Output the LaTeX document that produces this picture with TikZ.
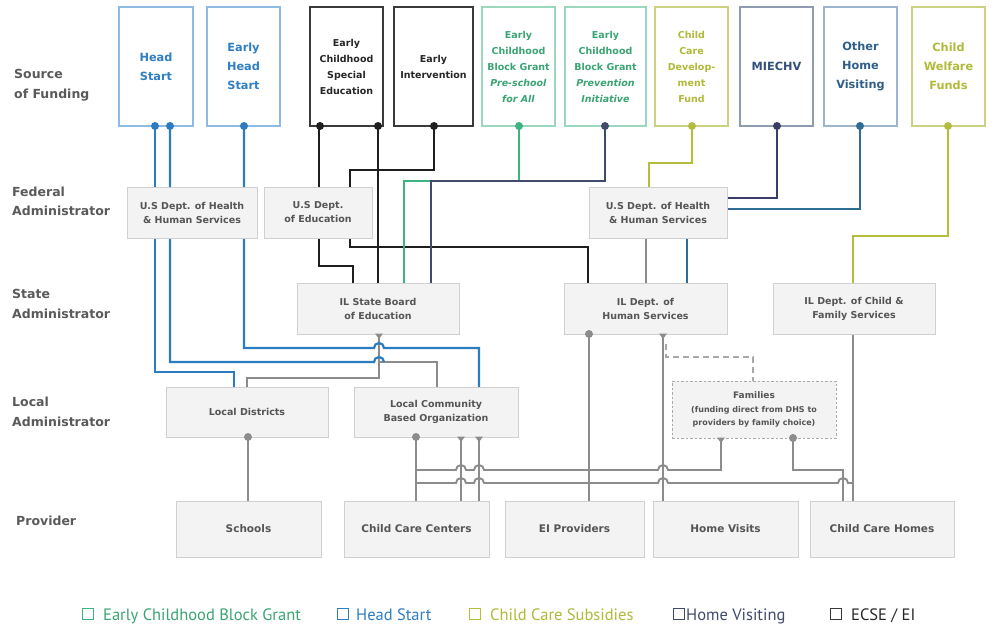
\documentclass[tikz,border=0pt]{standalone}
\usepackage{fontspec}
\setmainfont{DejaVu Sans}
\newfontfamily\legfont{PT Sans}
\usetikzlibrary{backgrounds}
\definecolor{hsline}{HTML}{2B7CC1}
\definecolor{hsbd}{HTML}{8DBBE3}
\definecolor{hstx}{HTML}{2E7EC3}
\definecolor{bkline}{HTML}{1E1E1E}
\definecolor{bkbd}{HTML}{3A3A3A}
\definecolor{bktx}{HTML}{262626}
\definecolor{grline}{HTML}{3DB480}
\definecolor{grbd}{HTML}{9AD7BC}
\definecolor{grtx}{HTML}{3AA572}
\definecolor{nvline}{HTML}{404B6C}
\definecolor{ylline}{HTML}{B4BE3C}
\definecolor{ylbd}{HTML}{CDD283}
\definecolor{yltx}{HTML}{B0BA38}
\definecolor{miline}{HTML}{3A3E66}
\definecolor{mibd}{HTML}{8F9BB0}
\definecolor{mitx}{HTML}{33507A}
\definecolor{hvline}{HTML}{2F6C98}
\definecolor{hvbd}{HTML}{9CB4CC}
\definecolor{hvtx}{HTML}{2F5F88}
\definecolor{gline}{HTML}{8C8C8C}
\definecolor{gdash}{HTML}{A8A8A8}
\definecolor{boxbd}{HTML}{D0D0D0}
\definecolor{boxfill}{HTML}{F3F3F3}
\definecolor{boxtx}{HTML}{555555}
\definecolor{labtx}{HTML}{5A5A5A}
\newcommand{\fbig}{\bfseries\fontsize{11.3}{19}\selectfont}
\newcommand{\fsmall}{\bfseries\fontsize{9.5}{16}\selectfont}
\tikzset{
  fund/.style={draw, fill=white, line width=1.3pt, minimum height=119, inner sep=0pt, outer sep=0pt, align=center},
  adm/.style={draw=boxbd, fill=boxfill, line width=1pt, inner sep=0pt, outer sep=0pt, align=center, text=boxtx, font=\bfseries\fontsize{9.5}{14}\selectfont},
  prov/.style={adm, minimum height=56, font=\bfseries\fontsize{10.5}{14}\selectfont},
  rowlab/.style={anchor=west, align=left, inner sep=0pt, text=labtx, font=\bfseries\fontsize{12.5}{19.5}\selectfont},
  ln/.style={line width=2.2pt},
  gl/.style={line width=1.9pt, draw=gline},
  legsq/.style={draw, line width=1pt, minimum size=11, inner sep=0pt, outer sep=0pt},
  legtx/.style={anchor=base west, inner sep=0pt, font=\legfont\fontsize{16.5}{18}\selectfont},
  tee/.pic={\fill (-4,-0.5) -- (4,-0.5) -- (0,5) -- cycle;}
}
\begin{document}
\begin{tikzpicture}[x=1pt,y=-1pt]
\useasboundingbox (0,0) rectangle (994,625);

% row labels
\node[rowlab] (r1) at (14,85) {Source\\of Funding};
\node[rowlab] (r2) at (12,201.5) {Federal\\Administrator};
\node[rowlab] (r3) at (12,304) {State\\Administrator};
\node[rowlab] (r4) at (12,412) {Local\\Administrator};
\node[rowlab] (r5) at (16,521) {Provider};

% funding sources
\node[fund,draw=hsbd,text=hstx,font=\fbig,minimum width=74] (hs) at (156,66.5) {Head\\Start};
\node[fund,draw=hsbd,text=hstx,font=\fbig,minimum width=73] (ehs) at (243.5,66.5) {Early\\Head\\Start};
\node[fund,draw=bkbd,text=bktx,font=\fsmall,minimum width=73] (ecse) at (346.5,66.5) {Early\\Childhood\\Special\\Education};
\node[fund,draw=bkbd,text=bktx,font=\fsmall,minimum width=79] (ei) at (433.5,66.5) {Early\\Intervention};
\node[fund,draw=grbd,text=grtx,font=\fsmall,minimum width=73] (pfa) at (518.5,66.5) {Early\\Childhood\\Block Grant\\\textit{Pre-school}\\\textit{for All}};
\node[fund,draw=grbd,text=grtx,font=\fsmall,minimum width=81] (pi) at (605.5,66.5) {Early\\Childhood\\Block Grant\\\textit{Prevention}\\\textit{Initiative}};
\node[fund,draw=ylbd,text=yltx,font=\fsmall,minimum width=73] (ccdf) at (691.5,66.5) {Child\\Care\\Develop-\\ment\\Fund};
\node[fund,draw=mibd,text=mitx,font=\fbig,minimum width=73] (mie) at (776.5,66.5) {MIECHV};
\node[fund,draw=hvbd,text=hvtx,font=\fbig,minimum width=73] (ohv) at (860.5,66.5) {Other\\Home\\Visiting};
\node[fund,draw=ylbd,text=yltx,font=\fbig,minimum width=73] (cwf) at (948.5,66.5) {Child\\Welfare\\Funds};

% federal
\node[adm,minimum width=130,minimum height=51] (hhs1) at (192,212.5) {U.S Dept. of Health\\\& Human Services};
\node[adm,minimum width=108,minimum height=51] (usde) at (318,212.5) {U.S Dept.\\of Education};
\node[adm,minimum width=138,minimum height=51] (hhs2) at (658,212.5) {U.S Dept. of Health\\\& Human Services};
% state
\node[adm,minimum width=162,minimum height=51] (isbe) at (378,308.5) {IL State Board\\of Education};
\node[adm,minimum width=163,minimum height=51] (idhs) at (645.5,308.5) {IL Dept. of\\Human Services};
\node[adm,minimum width=162,minimum height=51] (dcfs) at (854,308.5) {IL Dept. of Child \&\\Family Services};
% local
\node[adm,minimum width=162,minimum height=50] (ld) at (247,412) {Local Districts};
\node[adm,minimum width=164,minimum height=50] (lcbo) at (436,412) {Local Community\\Based Organization};
\node[adm,draw=gdash,dashed,dash pattern=on 2.5pt off 2pt,minimum width=164,minimum height=57,font=\bfseries\fontsize{8}{13.5}\selectfont] (fam) at (754,409.5) {{\fontsize{9}{13.5}\selectfont Families}\\(funding direct from DHS to\\providers by family choice)};
% providers
\node[prov,minimum width=145] (sch) at (248.5,529) {Schools};
\node[prov,minimum width=145] (ccc) at (416.5,529) {Child Care Centers};
\node[prov,minimum width=139] (eip) at (574.5,529) {EI Providers};
\node[prov,minimum width=145] (hv) at (725.5,529) {Home Visits};
\node[prov,minimum width=144] (cch) at (882,529) {Child Care Homes};

% connectors
\begin{scope}[on background layer]
\fill[white] (0,0) rectangle (994,625);
\draw[gl] (379,0 |- isbe.south) -- (379,378) -- (247,378) -- (247,0 |- ld.north);
\draw[gl] (379,362) -- (437,362) -- (437,0 |- lcbo.north);
\draw[ln,hsline] (155,0 |- hs.south) -- (155,372) -- (234,372) -- (234,0 |- ld.north);
\draw[ln,hsline] (170,0 |- hs.south) -- (170,362) -- (374,362) arc[start angle=180,end angle=360,radius=5];
\draw[ln,hsline] (244,0 |- ehs.south) -- (244,348) -- (374,348) arc[start angle=180,end angle=360,radius=5] -- (479,348) -- (479,0 |- lcbo.north);

\draw[ln,bkline] (319,0 |- ecse.south) -- (319,0 |- usde.north);
\draw[ln,bkline] (319,0 |- usde.south) -- (319,266) -- (353,266) -- (353,0 |- isbe.north);
\draw[ln,bkline] (378,0 |- ecse.south) -- (378,0 |- isbe.north);
\draw[ln,bkline] (434,0 |- ei.south) -- (434,170) -- (350,170) -- (350,0 |- usde.north);
\draw[ln,bkline] (350,0 |- usde.south) -- (350,247) -- (588,247) -- (588,0 |- idhs.north);

\draw[ln,grline] (519,0 |- pfa.south) -- (519,181) -- (404,181) -- (404,0 |- isbe.north);
\draw[ln,nvline] (605,0 |- pi.south) -- (605,181) -- (431,181) -- (431,0 |- isbe.north);

\draw[ln,ylline] (692,0 |- ccdf.south) -- (692,163) -- (649,163) -- (649,0 |- hhs2.north);
\draw[ln,miline] (777,0 |- mie.south) -- (777,198) -- (hhs2.east |- 0,198);
\draw[ln,hvline] (860,0 |- ohv.south) -- (860,209) -- (hhs2.east |- 0,209);
\draw[ln,ylline] (948,0 |- cwf.south) -- (948,236) -- (853,236) -- (853,0 |- dcfs.north);
\draw[gl] (646,0 |- hhs2.south) -- (646,0 |- idhs.north);
\draw[ln,hvline] (687,0 |- hhs2.south) -- (687,0 |- idhs.north);

\draw[gl] (589,0 |- idhs.south) -- (589,0 |- eip.north);
\draw[gl] (663,0 |- idhs.south) -- (663,0 |- hv.north);
\draw[gl,draw=gdash,dash pattern=on 6pt off 4pt] (666,344) -- (666,357) -- (753,357) -- (753,0 |- fam.north);

\draw[gl] (248,0 |- ld.south) -- (248,0 |- sch.north);
\draw[gl] (416,0 |- lcbo.south) -- (416,0 |- ccc.north);
\draw[gl] (461,0 |- lcbo.south) -- (461,0 |- ccc.north);
\draw[gl] (479,0 |- lcbo.south) -- (479,0 |- ccc.north);
\draw[gl] (416,470) -- (456,470) arc[start angle=180,end angle=360,radius=5]
  -- (474,470) arc[start angle=180,end angle=360,radius=5]
  -- (658,470) arc[start angle=180,end angle=360,radius=5]
  -- (721,470) -- (721,0 |- fam.south);
\draw[gl] (416,483) -- (456,483) arc[start angle=180,end angle=360,radius=5]
  -- (474,483) arc[start angle=180,end angle=360,radius=5]
  -- (658,483) arc[start angle=180,end angle=360,radius=5]
  -- (838,483) arc[start angle=180,end angle=360,radius=5] -- (853,483);
\draw[gl] (793,0 |- fam.south) -- (793,470) -- (843,470) -- (843,0 |- cch.north);
\draw[gl] (853,0 |- dcfs.south) -- (853,0 |- cch.north);
\end{scope}

% markers
\fill[hsline] (155,0 |- hs.south) circle[radius=4] (170,0 |- hs.south) circle[radius=4] (244,0 |- ehs.south) circle[radius=4];
\fill[bkline] (320,0 |- ecse.south) circle[radius=4] (378,0 |- ecse.south) circle[radius=4] (434,0 |- ei.south) circle[radius=4];
\fill[grline] (519,0 |- pfa.south) circle[radius=4];
\fill[nvline] (605,0 |- pi.south) circle[radius=4];
\fill[ylline] (692,0 |- ccdf.south) circle[radius=4] (948,0 |- cwf.south) circle[radius=4];
\fill[miline] (777,0 |- mie.south) circle[radius=4];
\fill[hvline] (860,0 |- ohv.south) circle[radius=4];
\fill[gline] (248,0 |- ld.south) circle[radius=4] (416,0 |- lcbo.south) circle[radius=4] (589,0 |- idhs.south) circle[radius=4] (793,0 |- fam.south) circle[radius=4];
\pic[color=gline] at (379,0 |- isbe.south) {tee};
\pic[color=gline] at (461,0 |- lcbo.south) {tee};
\pic[color=gline] at (479,0 |- lcbo.south) {tee};
\pic[color=gline] at (663,0 |- idhs.south) {tee};
\pic[color=gline] at (721,0 |- fam.south) {tee};

% legend
\node[legsq,draw=grline] (lg1) at (87.5,614) {};
\node[legtx,text=grtx] (lt1) at (103,620) {Early Childhood Block Grant};
\node[legsq,draw=hsline] (lg2) at (342.5,614) {};
\node[legtx,text=hstx] (lt2) at (356,620) {Head Start};
\node[legsq,draw=ylline] (lg3) at (474.5,614) {};
\node[legtx,text=yltx] (lt3) at (490,620) {Child Care Subsidies};
\node[legsq,draw=nvline] (lg4) at (678.5,614) {};
\node[legtx,text=nvline] (lt4) at (686,620) {Home Visiting};
\node[legsq,draw=bkbd] (lg5) at (835.5,614) {};
\node[legtx,text=bktx] (lt5) at (851,620) {ECSE / EI};
\end{tikzpicture}
\end{document}
